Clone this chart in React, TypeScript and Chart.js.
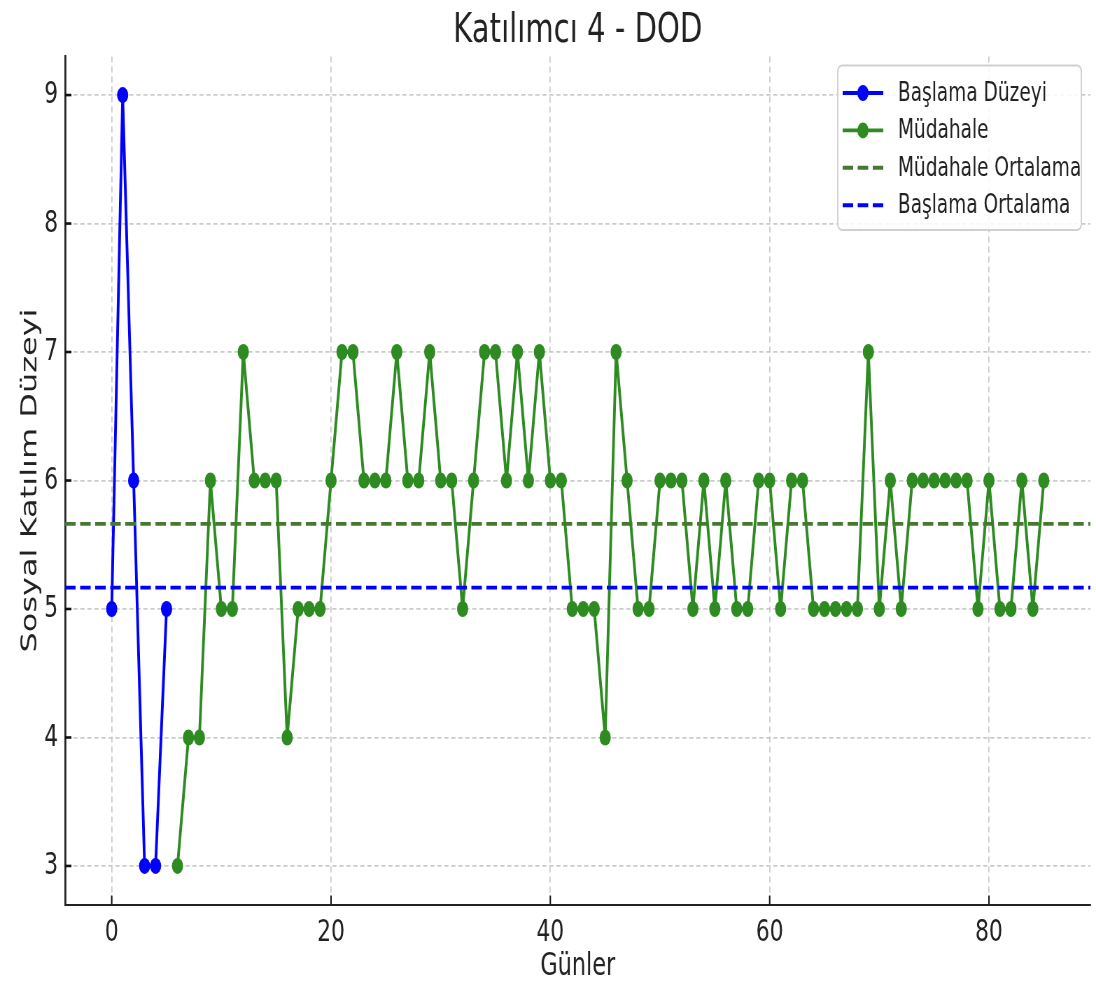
import React, { useEffect, useRef } from 'react';
import { Chart, registerables } from 'chart.js';

Chart.register(...registerables);

// ---------- data ----------
const chartTitle = 'Katılımcı 4 - DOD';
const xAxisTitle = 'Günler';
const yAxisTitle = 'Sosyal Katılım Düzeyi';

const baselineLabel = 'Başlama Düzeyi';
const interventionLabel = 'Müdahale';
const interventionMeanLabel = 'Müdahale Ortalama';
const baselineMeanLabel = 'Başlama Ortalama';

const baselineDays = [0, 1, 2, 3, 4, 5];
const baselineValues = [5, 9, 6, 3, 3, 5];

const interventionDays = [
  6, 7, 8, 9, 10, 11, 12, 13, 14, 15,
  16, 17, 18, 19, 20, 21, 22, 23, 24, 25,
  26, 27, 28, 29, 30, 31, 32, 33, 34, 35,
  36, 37, 38, 39, 40, 41, 42, 43, 44, 45,
  46, 47, 48, 49, 50, 51, 52, 53, 54, 55,
  56, 57, 58, 59, 60, 61, 62, 63, 64, 65,
  66, 67, 68, 69, 70, 71, 72, 73, 74, 75,
  76, 77, 78, 79, 80, 81, 82, 83, 84, 85,
];
const interventionValues = [
  3, 4, 4, 6, 5, 5, 7, 6, 6, 6,
  4, 5, 5, 5, 6, 7, 7, 6, 6, 6,
  7, 6, 6, 7, 6, 6, 5, 6, 7, 7,
  6, 7, 6, 7, 6, 6, 5, 5, 5, 4,
  7, 6, 5, 5, 6, 6, 6, 5, 6, 5,
  6, 5, 5, 6, 6, 5, 6, 6, 5, 5,
  5, 5, 5, 7, 5, 6, 5, 6, 6, 6,
  6, 6, 6, 5, 6, 5, 5, 6, 5, 6,
];

const xRange = [-4.25, 89.25];
const yRange = [2.7, 9.3];
const xTickStep = 20;
const yTickStep = 1;

// ---------- styles ----------
const FONT = 'DejaVu Sans';
const BLUE = '#0000ff';
const GREEN = '#2e8b22';
const GREEN_DASH = '#44792f';
const TEXT = '#222222';
const GRID = 'rgba(185,185,185,0.75)';
const CANVAS_W = 1566; // drawn wide, shown at 1096 px (horizontally compressed like the reference)
const CANVAS_H = 986;
const SHOW_W = 1096;

const mean = (a: number[]) => a.reduce((s, v) => s + v, 0) / a.length;

const inwardTicks = {
  id: 'inwardTicks',
  afterDatasetsDraw(chart: any) {
    const { ctx, chartArea } = chart;
    const xs = chart.scales.x;
    const ys = chart.scales.y;
    ctx.save();
    ctx.strokeStyle = '#111';
    ctx.lineWidth = 2;
    xs.ticks.forEach((t: any) => {
      const px = xs.getPixelForValue(t.value);
      ctx.beginPath();
      ctx.moveTo(px, chartArea.bottom);
      ctx.lineTo(px, chartArea.bottom - 9);
      ctx.stroke();
    });
    ctx.lineWidth = 2.6;
    ys.ticks.forEach((t: any) => {
      const py = ys.getPixelForValue(t.value);
      ctx.beginPath();
      ctx.moveTo(chartArea.left, py);
      ctx.lineTo(chartArea.left + 9, py);
      ctx.stroke();
    });
    ctx.restore();
  },
};

const customLegend = {
  id: 'customLegend',
  afterDraw(chart: any) {
    const { ctx, chartArea } = chart;
    const right = chartArea.right - 13;
    const top = chartArea.top + 9;
    const left = 1197;
    const bottom = 230;
    ctx.save();
    ctx.beginPath();
    ctx.roundRect(left, top, right - left, bottom - top, 6);
    ctx.fillStyle = 'rgba(255,255,255,0.85)';
    ctx.fill();
    ctx.strokeStyle = '#d0d0d0';
    ctx.lineWidth = 2;
    ctx.stroke();

    const items = chart.data.datasets.map((d: any) => ({
      label: d.label,
      color: d.borderColor,
      dash: d.borderDash || [],
      marker: d.pointRadius > 0,
    }));
    const rowY0 = 93;
    const rowGap = 37.4;
    const hx0 = 1204;
    const hx1 = 1262;
    items.forEach((it: any, i: number) => {
      const y = rowY0 + i * rowGap;
      ctx.beginPath();
      ctx.setLineDash(it.dash);
      ctx.strokeStyle = it.color;
      ctx.lineWidth = 3.9;
      ctx.moveTo(hx0, y);
      ctx.lineTo(hx1, y);
      ctx.stroke();
      ctx.setLineDash([]);
      if (it.marker) {
        ctx.beginPath();
        ctx.fillStyle = it.color;
        ctx.arc((hx0 + hx1) / 2, y, 8, 0, Math.PI * 2);
        ctx.fill();
      }
      ctx.fillStyle = TEXT;
      ctx.font = `26.5px "${FONT}"`;
      ctx.textBaseline = 'middle';
      ctx.textAlign = 'left';
      ctx.fillText(it.label, 1283, y + 1);
    });
    ctx.restore();
  },
};

export default function App() {
  const ref = useRef<HTMLCanvasElement | null>(null);

  useEffect(() => {
    if (!ref.current) return;
    const interventionMean = mean(interventionValues);
    const baselineMean = mean(baselineValues);
    const lineCommon = {
      borderWidth: 3.9,
      pointRadius: 8,
      pointBorderWidth: 0,
      tension: 0,
      borderJoinStyle: 'round',
      borderCapStyle: 'round',
    };
    const chart = new Chart(ref.current, {
      type: 'line',
      data: {
        datasets: [
          {
            ...lineCommon,
            label: baselineLabel,
            data: baselineDays.map((d, i) => ({ x: d, y: baselineValues[i] })),
            borderColor: BLUE,
            backgroundColor: BLUE,
            pointBackgroundColor: BLUE,
            order: 4,
          },
          {
            ...lineCommon,
            label: interventionLabel,
            data: interventionDays.map((d, i) => ({ x: d, y: interventionValues[i] })),
            borderColor: GREEN,
            backgroundColor: GREEN,
            pointBackgroundColor: GREEN,
            order: 3,
          },
          {
            label: interventionMeanLabel,
            data: [
              { x: xRange[0], y: interventionMean },
              { x: xRange[1], y: interventionMean },
            ],
            borderColor: GREEN_DASH,
            borderWidth: 3.9,
            borderDash: [15, 6.5],
            pointRadius: 0,
            order: 2,
          },
          {
            label: baselineMeanLabel,
            data: [
              { x: xRange[0], y: baselineMean },
              { x: xRange[1], y: baselineMean },
            ],
            borderColor: BLUE,
            borderWidth: 3.9,
            borderDash: [15, 6.5],
            pointRadius: 0,
            order: 1,
          },
        ],
      },
      options: {
        responsive: false,
        devicePixelRatio: 1,
        animation: false,
        layout: { padding: { left: 0, right: 3, top: 0, bottom: 0 } },
        plugins: {
          legend: { display: false },
          tooltip: { enabled: false },
          title: {
            display: true,
            text: chartTitle,
            fullSize: false,
            color: TEXT,
            font: { family: FONT, size: 41.6, weight: 'normal', lineHeight: 1.2 },
            padding: { top: 6, bottom: 0.6 },
          },
        },
        scales: {
          x: {
            type: 'linear',
            min: xRange[0],
            max: xRange[1],
            afterFit: (s: any) => {
              s.height = 81.5;
            },
            ticks: {
              stepSize: xTickStep,
              includeBounds: false,
              autoSkip: false,
              maxRotation: 0,
              padding: 10,
              color: TEXT,
              font: { family: FONT, size: 31 },
            },
            grid: {
              color: GRID,
              lineWidth: 1.8,
              drawTicks: false,
            },
            border: { display: true, color: '#222', width: 2, dash: [6, 4] },
            title: {
              display: true,
              text: xAxisTitle,
              color: TEXT,
              font: { family: FONT, size: 32 },
              padding: { top: 0, bottom: 0 },
            },
          },
          y: {
            type: 'linear',
            min: yRange[0],
            max: yRange[1],
            afterFit: (s: any) => {
              s.width = 93;
            },
            ticks: {
              stepSize: yTickStep,
              includeBounds: false,
              autoSkip: false,
              padding: 10,
              color: TEXT,
              font: { family: FONT, size: 31 },
            },
            grid: {
              color: GRID,
              lineWidth: 1.8,
              drawTicks: false,
            },
            border: { display: true, color: '#222', width: 2.8, dash: [6, 4] },
            title: {
              display: true,
              text: yAxisTitle,
              color: TEXT,
              font: { family: FONT, size: 32 },
              padding: { top: 24, bottom: 0 },
            },
          },
        },
      },
      plugins: [inwardTicks, customLegend],
    } as any);
    return () => chart.destroy();
  }, []);

  return (
    <div style={{ position: 'absolute', left: 0, top: 0, width: SHOW_W, height: CANVAS_H, background: '#fff' }}>
      <canvas
        ref={ref}
        width={CANVAS_W}
        height={CANVAS_H}
        style={{ width: `${SHOW_W}px`, height: `${CANVAS_H}px`, display: 'block' }}
      />
    </div>
  );
}
